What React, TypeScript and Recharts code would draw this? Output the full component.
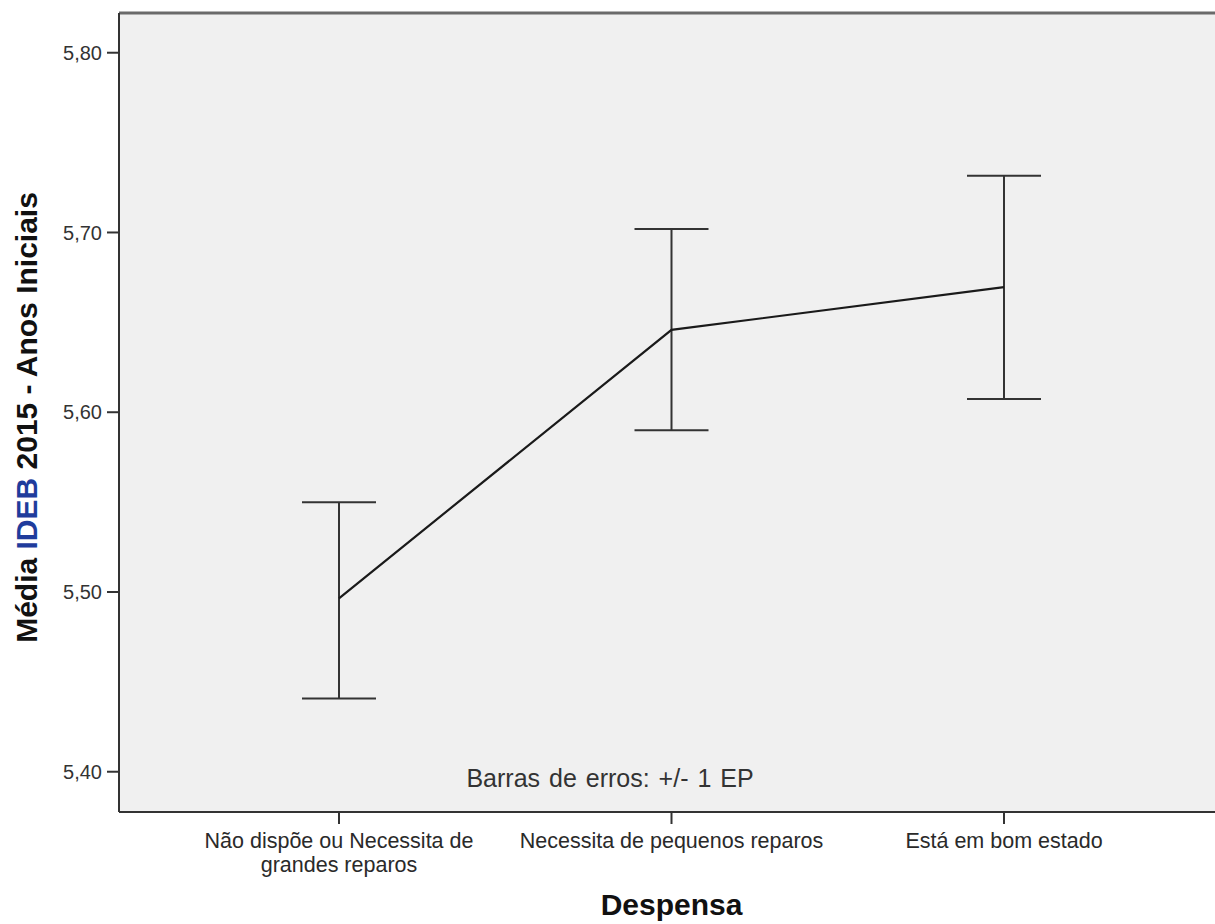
import { LineChart, Line, XAxis, YAxis, CartesianGrid, ErrorBar, ReferenceLine } from 'recharts';

const categories = [
    'Não dispõe ou Necessita de grandes reparos',
    'Necessita de pequenos reparos',
    'Está em bom estado',
];
const means = [5.4965, 5.6458, 5.6696];
const lowerBounds = [5.4408, 5.59, 5.6074];
const upperBounds = [5.5499, 5.702, 5.7315];
const yTicks = [5.4, 5.5, 5.6, 5.7, 5.8];
const yDomain = [5.3776, 5.8221];

const data = categories.map((name, i) => ({
    name,
    mean: means[i],
    err: [means[i] - lowerBounds[i], upperBounds[i] - means[i]],
}));

const FONT = '"Liberation Sans", Arial, sans-serif';

// greedy word wrap, SPSS breaks long category labels onto two lines
function wrap(text: string, max: number) {
    const lines: string[] = [];
    let cur = '';
    text.split(' ').forEach(w => {
        const next = cur ? cur + ' ' + w : w;
        if (next.length > max && cur) {
            lines.push(cur);
            cur = w;
        } else {
            cur = next;
        }
    });
    if (cur) lines.push(cur);
    return lines;
}

// eslint-disable-next-line @typescript-eslint/no-explicit-any
const CategoryTick = ({ x, y, payload }: any) => (
    <text x={x} y={y} textAnchor="middle" fontFamily={FONT} fontSize={21.5} fill="#2a2a2a">
        {wrap(payload.value, 30).map((line, i) => (
            <tspan key={i} x={x} dy={i === 0 ? 22 : 24}>{line}</tspan>
        ))}
    </text>
);

// eslint-disable-next-line @typescript-eslint/no-explicit-any
const YTitle = ({ viewBox }: any) => {
    const cx = viewBox.x + 37;
    const cy = viewBox.y + viewBox.height / 2 + 5;
    return (
        <text
            x={cx}
            y={cy}
            transform={`rotate(-90 ${cx} ${cy})`}
            textAnchor="middle"
            fontFamily={FONT}
            fontWeight="bold"
            fontSize={30}
            fill="#111"
        >
            <tspan>Média </tspan>
            <tspan fill="#1f3c9c">IDEB</tspan>
            <tspan> 2015 - Anos Iniciais</tspan>
        </text>
    );
};

// eslint-disable-next-line @typescript-eslint/no-explicit-any
const XTitle = ({ viewBox }: any) => (
    <text
        x={viewBox.x + viewBox.width / 2}
        y={915}
        textAnchor="middle"
        fontFamily={FONT}
        fontWeight="bold"
        fontSize={30}
        fill="#111"
    >
        Despensa
    </text>
);

export default function App() {
    return (
        <div style={{ position: 'absolute', left: 0, top: 0, width: 1215, height: 924, overflow: 'hidden', background: '#fff' }}>
            <LineChart width={1224} height={924} data={data} margin={{ top: 13, right: 0, bottom: 0, left: 0 }}>
                <CartesianGrid fill="#f0f0f0" horizontal={false} vertical={false} />
                <XAxis
                    dataKey="name"
                    type="category"
                    scale="point"
                    padding={{ left: 220, right: 220 }}
                    height={112}
                    tickSize={12}
                    tickLine={{ stroke: '#333', strokeWidth: 2 }}
                    axisLine={{ stroke: '#333', strokeWidth: 2 }}
                    tick={<CategoryTick />}
                    interval={0}
                    label={<XTitle />}
                />
                <YAxis
                    type="number"
                    domain={yDomain}
                    ticks={yTicks}
                    width={119}
                    tickSize={12}
                    tickMargin={5}
                    tickLine={{ stroke: '#333', strokeWidth: 2 }}
                    axisLine={{ stroke: '#333', strokeWidth: 2 }}
                    tick={{ fontFamily: FONT, fontSize: 20, fill: '#333' }}
                    tickFormatter={(v: number) => v.toFixed(2).replace('.', ',')}
                    allowDataOverflow
                    label={<YTitle />}
                />
                {/* top frame of the plot area */}
                <ReferenceLine y={yDomain[1]} stroke="#6a6a6a" strokeWidth={3} ifOverflow="visible" />
                <Line
                    dataKey="mean"
                    stroke="#1a1a1a"
                    strokeWidth={2.2}
                    dot={false}
                    activeDot={false}
                    isAnimationActive={false}
                >
                    <ErrorBar dataKey="err" width={37} stroke="#333" strokeWidth={2} direction="y" />
                </Line>
            </LineChart>
            <div
                style={{
                    position: 'absolute',
                    left: 610,
                    top: 764,
                    transform: 'translateX(-50%)',
                    whiteSpace: 'nowrap',
                    fontFamily: FONT,
                    fontSize: 25,
                    color: '#333',
                    wordSpacing: 2,
                }}
            >
                Barras de erros: +/- 1 EP
            </div>
        </div>
    );
}
